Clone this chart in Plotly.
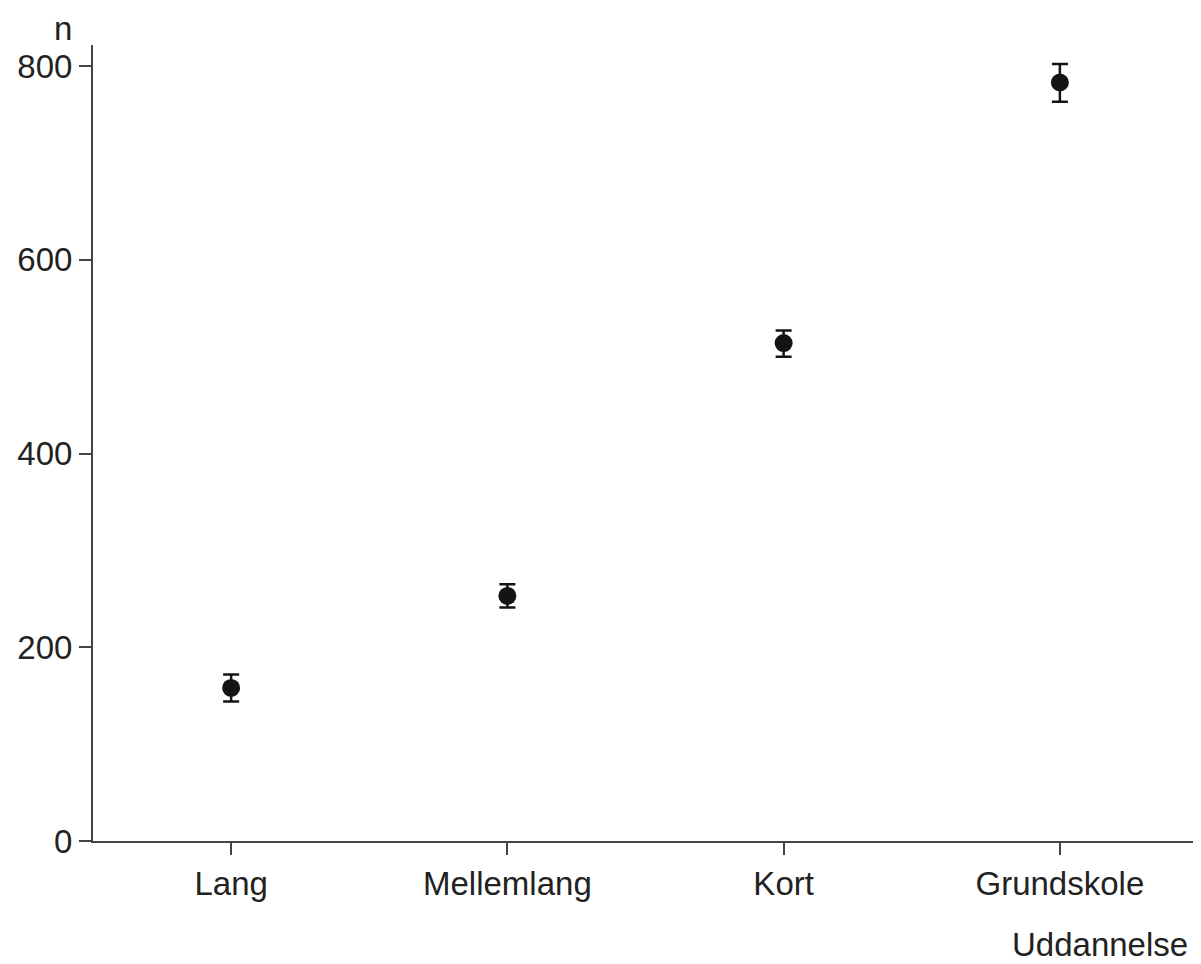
import plotly.graph_objects as go

categories = ["Lang", "Mellemlang", "Kort", "Grundskole"]
values = [158, 253, 514, 783]
err_plus = [14, 12, 13, 19]
err_minus = [14, 12, 14, 20]
y_ticks = [0, 200, 400, 600, 800]

# page body adds an 8px offset, so the figure is slightly smaller than the window
W, H = 1193, 956
ml, mr, mt, mb = 85, 3, 37, 123
PW, PH = W - ml - mr, H - mt - mb

fig = go.Figure()
fig.add_trace(go.Scatter(
    x=categories, y=values, mode="markers",
    marker=dict(size=18, color="#141414"),
    error_y=dict(type="data", symmetric=False, array=err_plus, arrayminus=err_minus,
                 color="#141414", thickness=2.5, width=8),
    showlegend=False,
))

font = dict(family="Liberation Sans, Arial, sans-serif", size=33, color="#222222")

fig.update_layout(
    width=W, height=H,
    margin=dict(l=ml, r=mr, t=mt, b=mb),
    paper_bgcolor="white", plot_bgcolor="white",
    font=font,
    xaxis=dict(
        type="category", range=[-0.5, 3.5],
        showgrid=False, zeroline=False,
        showline=True, linecolor="#444444", linewidth=2,
        ticks="outside", ticklen=12, tickwidth=2, tickcolor="#444444",
        tickfont=font,
    ),
    yaxis=dict(
        range=[0, 821.7], tickvals=y_ticks,
        showgrid=False, zeroline=False,
        showline=True, linecolor="#444444", linewidth=2,
        ticks="outside", ticklen=12, tickwidth=2, tickcolor="#444444",
        tickfont=font,
    ),
    annotations=[
        dict(text="n", xref="paper", yref="paper", x=-30 / PW, y=1 + (mt - 1) / PH,
             xanchor="center", yanchor="top", showarrow=False, font=font, borderpad=0),
        dict(text="Uddannelse", xref="paper", yref="paper", x=1 - 8 / PW, y=-104 / PH,
             xanchor="right", yanchor="middle", showarrow=False, font=font),
    ],
)

fig.write_html("out.html")
